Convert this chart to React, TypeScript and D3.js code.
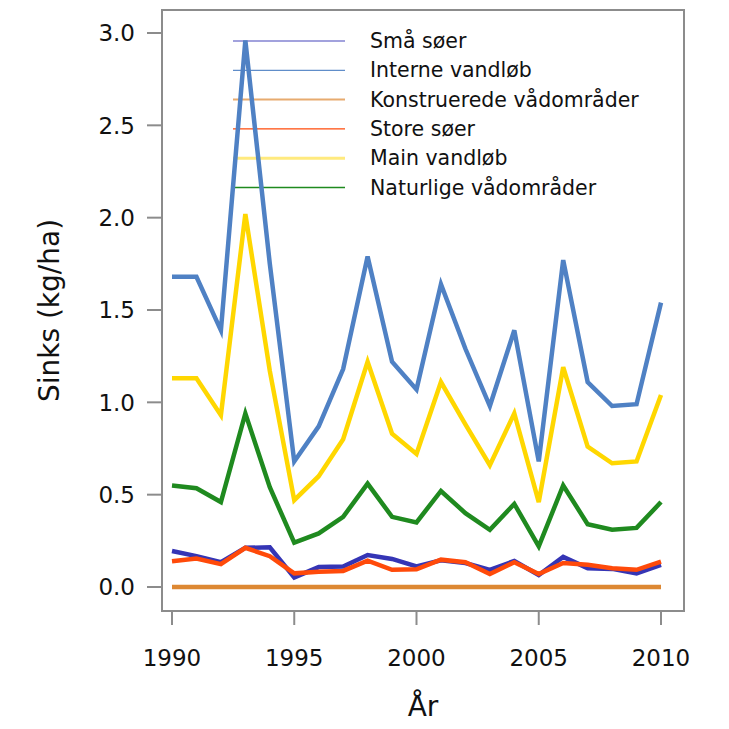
import React from 'react';
import * as d3 from 'd3';

const years = d3.range(1990, 2011);

const smaSoer = [0.195, 0.167, 0.134, 0.212, 0.215, 0.052, 0.108, 0.111, 0.173, 0.152, 0.111, 0.145, 0.13, 0.093, 0.141, 0.065, 0.163, 0.102, 0.098, 0.074, 0.12];
const interneVandlob = [1.68, 1.68, 1.39, 2.96, 1.75, 0.68, 0.87, 1.18, 1.79, 1.22, 1.07, 1.64, 1.29, 0.98, 1.39, 0.68, 1.77, 1.11, 0.98, 0.99, 1.54];
const konstruerede = [0, 0, 0, 0, 0, 0, 0, 0, 0, 0, 0, 0, 0, 0, 0, 0, 0, 0, 0, 0, 0];
const storeSoer = [0.139, 0.154, 0.124, 0.212, 0.167, 0.074, 0.082, 0.087, 0.143, 0.093, 0.096, 0.148, 0.134, 0.07, 0.134, 0.07, 0.13, 0.12, 0.102, 0.093, 0.137];
const mainVandlob = [1.13, 1.13, 0.93, 2.02, 1.17, 0.47, 0.6, 0.8, 1.22, 0.83, 0.72, 1.11, 0.88, 0.66, 0.94, 0.46, 1.19, 0.76, 0.67, 0.68, 1.04];
const naturlige = [0.55, 0.535, 0.46, 0.94, 0.54, 0.24, 0.29, 0.38, 0.56, 0.38, 0.35, 0.52, 0.4, 0.31, 0.45, 0.22, 0.55, 0.34, 0.31, 0.32, 0.46];

const xTicks = [1990, 1995, 2000, 2005, 2010];
const yTicks = [0, 0.5, 1, 1.5, 2, 2.5, 3];

// legend order
const series = [
  { name: 'Små søer', values: smaSoer, color: '#3535b5', legendWidth: 1.2, legendOpacity: 0.9 },
  { name: 'Interne vandløb', values: interneVandlob, color: '#4f81c4', legendWidth: 1.2, legendOpacity: 0.9 },
  { name: 'Konstruerede vådområder', values: konstruerede, color: '#dd8833', legendWidth: 2, legendOpacity: 0.7 },
  { name: 'Store søer', values: storeSoer, color: '#ff4a0a', legendWidth: 1.2, legendOpacity: 1 },
  { name: 'Main vandløb', values: mainVandlob, color: '#ffd700', legendWidth: 3, legendOpacity: 0.5 },
  { name: 'Naturlige vådområder', values: naturlige, color: '#1f8a1f', legendWidth: 1.4, legendOpacity: 1 },
];

// drawing order (bottom to top)
const drawOrder = ['Konstruerede vådområder', 'Små søer', 'Store søer', 'Naturlige vådområder', 'Main vandløb', 'Interne vandløb'];

const font = '"DejaVu Sans", sans-serif';

export default function App() {
  const W = 729;
  const H = 729;
  const box = { left: 162, right: 684, top: 10, bottom: 611 };

  const x = d3.scaleLinear().domain([1990, 2010]).range([172, 661]);
  const y = d3.scaleLinear().domain([0, 3]).range([587, 33]);

  const line = d3.line<number>()
    .x((_, i) => x(years[i]))
    .y(d => y(d));

  const axisColor = '#8c8c8c';

  return (
    <svg width={W} height={H} style={{ position: 'absolute', left: 0, top: 0, background: '#fff' }}>
      {/* legend (drawn under the data) */}
      {series.map((s, i) => {
        const ly = 41 + i * 29.3;
        return (
          <g key={s.name}>
            <line x1={233} x2={345} y1={ly} y2={ly} stroke={s.color} strokeWidth={s.legendWidth} opacity={s.legendOpacity} />
            <text x={370} y={ly} dy="0.35em" fontFamily={font} fontSize={20.5} fill="#111">{s.name}</text>
          </g>
        );
      })}

      {/* data lines */}
      {drawOrder.map(n => {
        const s = series.find(d => d.name === n)!;
        return (
          <path key={n} d={line(s.values) || ''} fill="none" stroke={s.color} strokeWidth={4.5} strokeLinejoin="miter" />
        );
      })}

      {/* frame */}
      <rect x={box.left} y={box.top} width={box.right - box.left} height={box.bottom - box.top} fill="none" stroke={axisColor} strokeWidth={2} />

      {/* y axis */}
      {yTicks.map(t => (
        <g key={t}>
          <line x1={147} x2={box.left} y1={y(t)} y2={y(t)} stroke={axisColor} strokeWidth={2} />
          <text x={135} y={y(t)} dy="0.36em" textAnchor="end" fontFamily={font} fontSize={23} fill="#111">{t.toFixed(1)}</text>
        </g>
      ))}

      {/* x axis */}
      {xTicks.map(t => (
        <g key={t}>
          <line x1={x(t)} x2={x(t)} y1={box.bottom} y2={625} stroke={axisColor} strokeWidth={2} />
          <text x={x(t)} y={666} textAnchor="middle" fontFamily={font} fontSize={23} fill="#111">{t}</text>
        </g>
      ))}

      <text x={(box.left + box.right) / 2} y={716} textAnchor="middle" fontFamily={font} fontSize={28} fill="#111">År</text>
      <text transform={`translate(59,${(box.top + box.bottom) / 2}) rotate(-90)`} textAnchor="middle" fontFamily={font} fontSize={28} fill="#111">Sinks (kg/ha)</text>
    </svg>
  );
}
